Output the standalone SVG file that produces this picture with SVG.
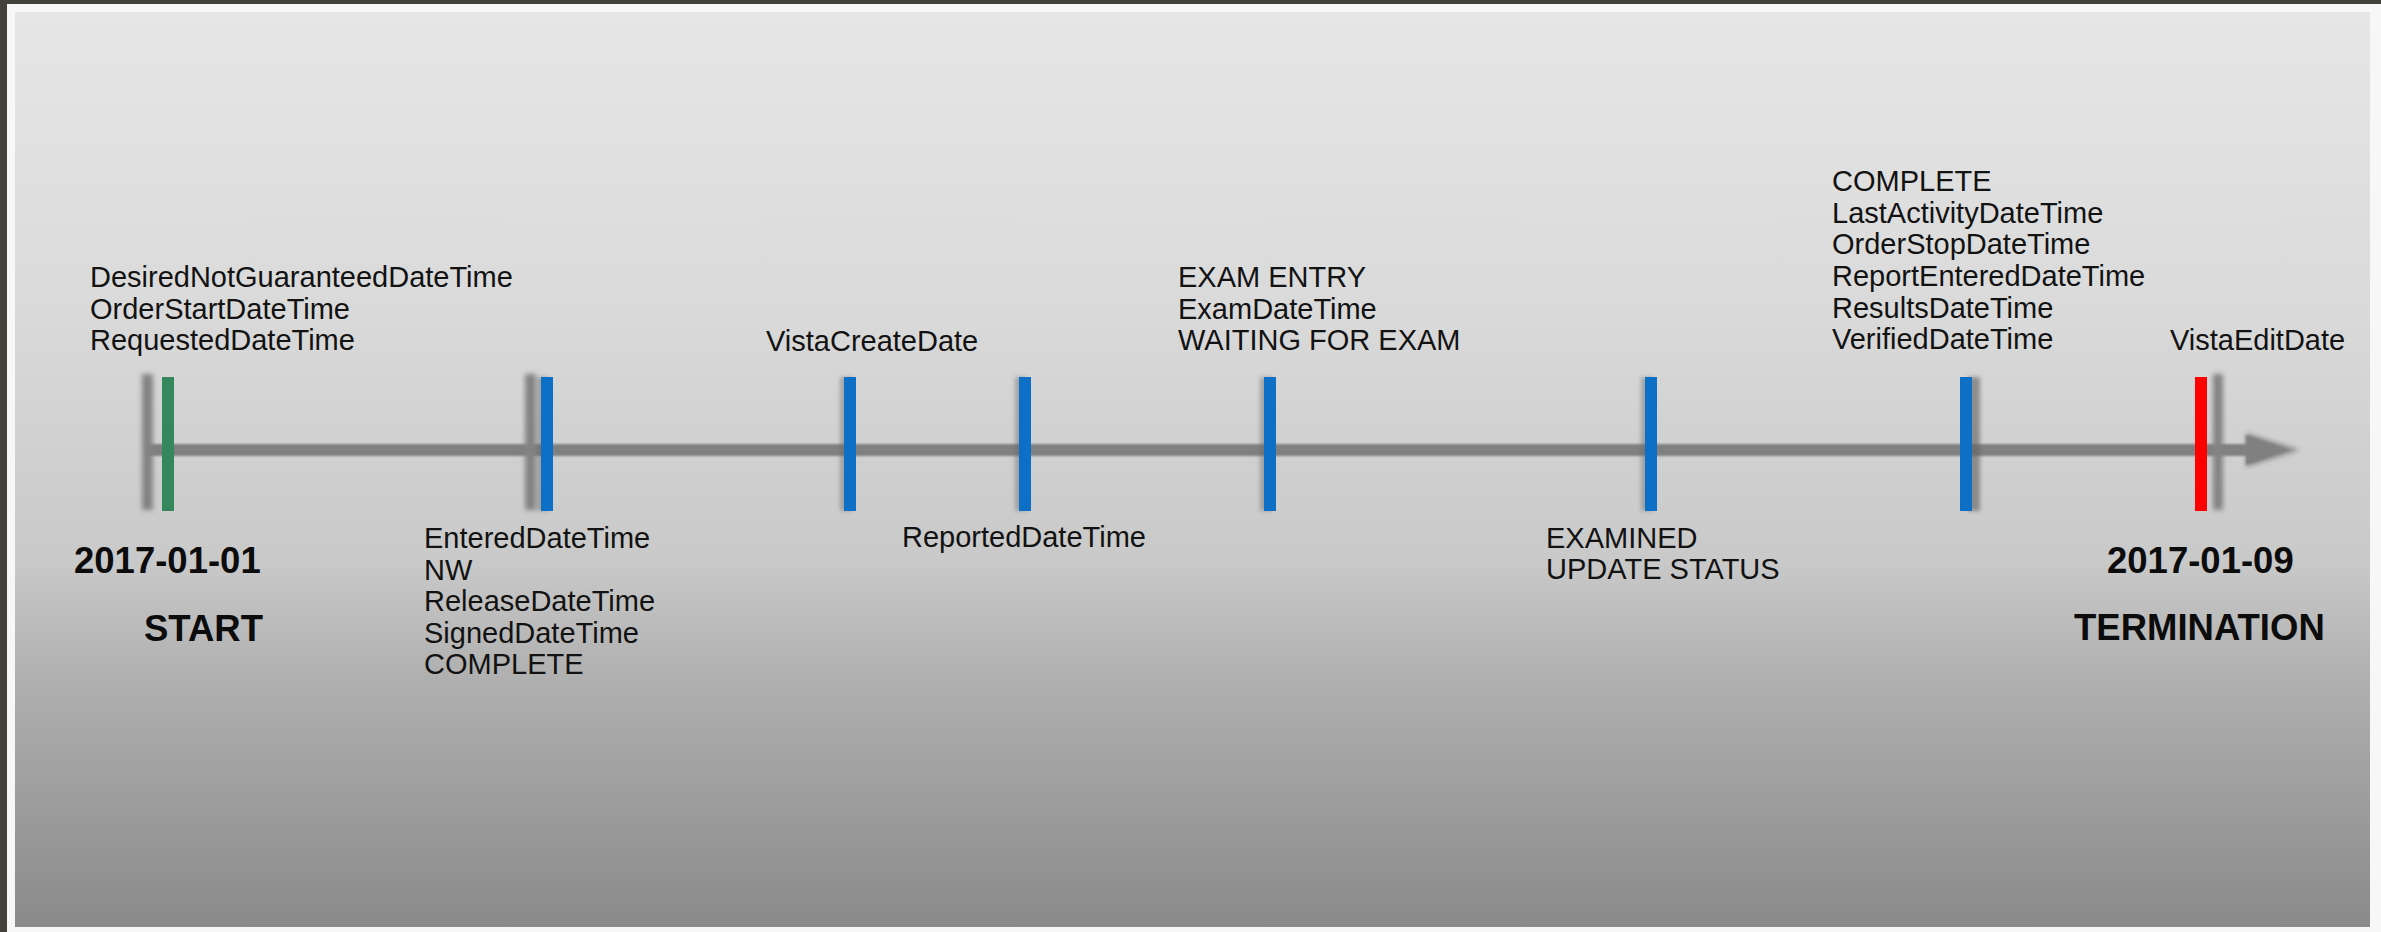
<svg xmlns="http://www.w3.org/2000/svg" width="2381" height="932" viewBox="0 0 2381 932">
  <defs>
    <linearGradient id="panelFill" x1="0" y1="0" x2="0" y2="1">
      <stop offset="0" stop-color="#e6e6e6"/>
      <stop offset="0.32" stop-color="#dadada"/>
      <stop offset="0.6" stop-color="#c9c9c9"/>
      <stop offset="0.72" stop-color="#b1b1b1"/>
      <stop offset="1" stop-color="#8a8a8a"/>
    </linearGradient>
    <filter id="soft" x="-50%" y="-20%" width="200%" height="140%">
      <feGaussianBlur stdDeviation="2.6"/>
    </filter>
    <filter id="softer" x="-50%" y="-50%" width="200%" height="200%">
      <feGaussianBlur stdDeviation="1.2"/>
    </filter>
    <filter id="shadowL" x="-100%" y="-20%" width="300%" height="140%">
      <feDropShadow dx="-4" dy="0" stdDeviation="2" flood-color="#666" flood-opacity="0.45"/>
    </filter>
    <filter id="shadowR" x="-100%" y="-20%" width="300%" height="140%">
      <feDropShadow dx="8" dy="0" stdDeviation="2.2" flood-color="#666" flood-opacity="0.65"/>
    </filter>
  </defs>
  <style>
    .lbl { font-family: "Liberation Sans", Arial, Helvetica, sans-serif; font-size: 29px; fill: #121212; }
    .big { font-family: "Liberation Sans", Arial, Helvetica, sans-serif; font-size: 36.5px; font-weight: bold; fill: #0c0c0c; }
    .ghost { fill: #838383; filter: url(#soft); }
    .tick-blue { fill: #0a70c6; }
    .tick-green { fill: #36875b; }
    .tick-red { fill: #ff0000; }
    .axis { fill: #808080; }
  </style>

  <!-- window frame and panel -->
  <rect x="0" y="0" width="2381" height="932" fill="#42423b"/>
  <rect x="7" y="4" width="2374" height="928" fill="#f7f7f7"/>
  <rect x="15" y="12" width="2355" height="915" fill="url(#panelFill)"/>

  <!-- timeline axis with arrowhead -->
  <g id="connectors">
    <rect class="axis" x="147" y="444" width="2103" height="12" filter="url(#softer)"/>
    <polygon points="2246,433 2300,450 2246,467" fill="#8a8a8a" filter="url(#soft)"/>
    <polygon points="2246,435 2290,450 2246,465" fill="#808080" filter="url(#softer)"/>
  </g>

  <!-- blurred boundary ticks -->
  <g id="ghost-ticks">
    <rect class="ghost" x="142" y="374" width="11" height="136"/>
    <rect class="ghost" x="525" y="374" width="11" height="136"/>
    <rect class="ghost" x="2213" y="374" width="10" height="136"/>
  </g>

  <g id="start">
    <rect class="tick-green" x="162" y="377" width="12" height="134"/>
    <text class="lbl" x="90" y="287">DesiredNotGuaranteedDateTime</text>
    <text class="lbl" x="90" y="319">OrderStartDateTime</text>
    <text class="lbl" x="90" y="350">RequestedDateTime</text>
    <text class="big" x="74" y="573">2017-01-01</text>
    <text class="big" x="144" y="641">START</text>
  </g>

  <g id="entered">
    <rect class="tick-blue" x="541" y="377" width="12" height="134" filter="url(#shadowL)"/>
    <text class="lbl" x="424" y="548">EnteredDateTime</text>
    <text class="lbl" x="424" y="579.5">NW</text>
    <text class="lbl" x="424" y="611">ReleaseDateTime</text>
    <text class="lbl" x="424" y="642.5">SignedDateTime</text>
    <text class="lbl" x="424" y="674">COMPLETE</text>
  </g>

  <g id="vista-create">
    <rect class="tick-blue" x="844" y="377" width="12" height="134" filter="url(#shadowL)"/>
    <text class="lbl" x="766" y="351">VistaCreateDate</text>
  </g>

  <g id="reported">
    <rect class="tick-blue" x="1019" y="377" width="12" height="134" filter="url(#shadowL)"/>
    <text class="lbl" x="902" y="547">ReportedDateTime</text>
  </g>

  <g id="exam-entry">
    <rect class="tick-blue" x="1264" y="377" width="12" height="134" filter="url(#shadowL)"/>
    <text class="lbl" x="1178" y="287">EXAM ENTRY</text>
    <text class="lbl" x="1178" y="318.5">ExamDateTime</text>
    <text class="lbl" x="1178" y="350">WAITING FOR EXAM</text>
  </g>

  <g id="examined">
    <rect class="tick-blue" x="1645" y="377" width="12" height="134" filter="url(#shadowL)"/>
    <text class="lbl" x="1546" y="548">EXAMINED</text>
    <text class="lbl" x="1546" y="579">UPDATE STATUS</text>
  </g>

  <g id="complete">
    <rect class="tick-blue" x="1960" y="377" width="12" height="134" filter="url(#shadowR)"/>
    <text class="lbl" x="1832" y="191">COMPLETE</text>
    <text class="lbl" x="1832" y="222.5">LastActivityDateTime</text>
    <text class="lbl" x="1832" y="254">OrderStopDateTime</text>
    <text class="lbl" x="1832" y="286">ReportEnteredDateTime</text>
    <text class="lbl" x="1832" y="317.5">ResultsDateTime</text>
    <text class="lbl" x="1832" y="349">VerifiedDateTime</text>
  </g>

  <g id="termination">
    <rect class="tick-red" x="2195" y="377" width="12" height="134"/>
    <text class="lbl" x="2170" y="350">VistaEditDate</text>
    <text class="big" x="2107" y="573">2017-01-09</text>
    <text class="big" x="2074" y="640">TERMINATION</text>
  </g>
</svg>
